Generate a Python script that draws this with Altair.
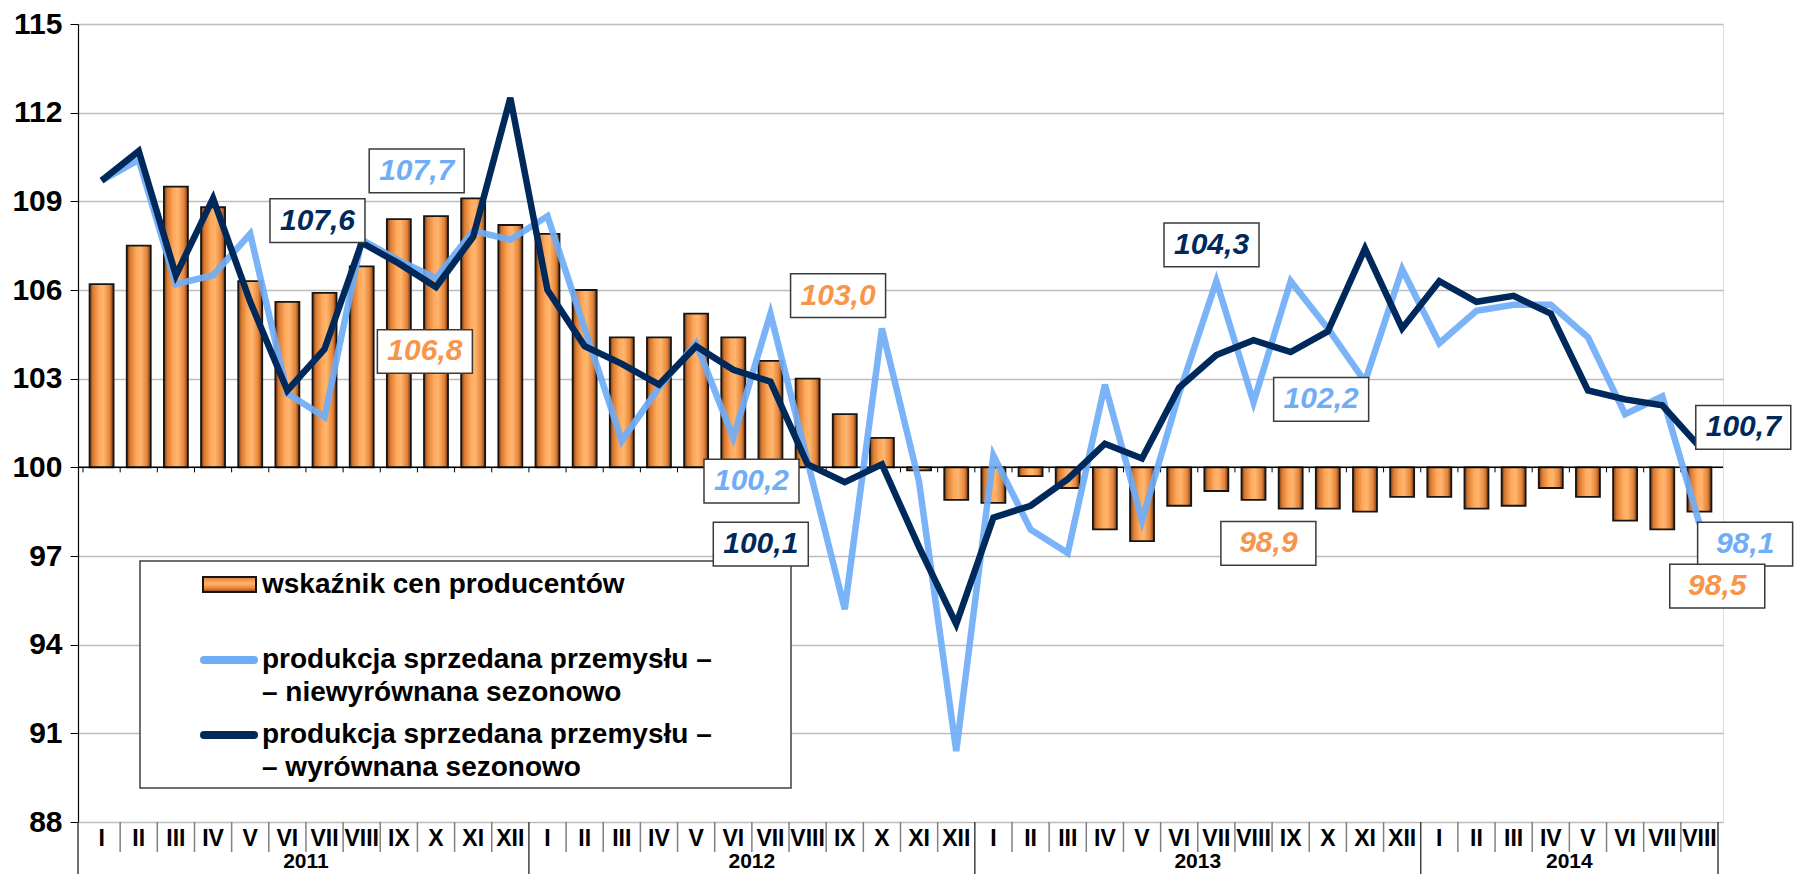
import altair as alt
import pandas as pd

# ---------------- data ----------------
roman = ["I", "II", "III", "IV", "V", "VI", "VII", "VIII", "IX", "X", "XI", "XII"]
years = ["2011"] * 12 + ["2012"] * 12 + ["2013"] * 12 + ["2014"] * 8
months = (roman * 4)[:44]

# wskaźnik cen producentów (bars, base 100)
ppi = [106.2, 107.5, 109.5, 108.8, 106.3, 105.6, 105.9, 106.8, 108.4, 108.5, 109.1, 108.2,
       107.9, 106.0, 104.4, 104.4, 105.2, 104.4, 103.6, 103.0, 101.8, 101.0, 99.9, 98.9,
       98.8, 99.7, 99.3, 97.9, 97.5, 98.7, 99.2, 98.9, 98.6, 98.6, 98.5, 99.0,
       99.0, 98.6, 98.7, 99.3, 99.0, 98.2, 97.9, 98.5]

# produkcja sprzedana przemysłu – niewyrównana sezonowo
light = [109.7, 110.4, 106.2, 106.5, 107.9, 102.5, 101.7, 107.7, 107.0, 106.4, 108.0, 107.7,
         108.5, 104.7, 100.9, 102.7, 104.2, 101.0, 105.2, 100.2, 95.2, 104.7, 99.5, 90.4,
         100.4, 97.9, 97.1, 102.8, 98.2, 102.5, 106.3, 102.2, 106.3, 104.7, 102.9, 106.7,
         104.2, 105.3, 105.5, 105.5, 104.4, 101.8, 102.4, 98.1]

# produkcja sprzedana przemysłu – wyrównana sezonowo
dark = [109.7, 110.7, 106.5, 109.1, 105.6, 102.6, 104.0, 107.6, 106.9, 106.1, 107.8, 112.5,
        106.0, 104.1, 103.5, 102.8, 104.1, 103.3, 102.9, 100.1, 99.5, 100.1, 97.3, 94.7,
        98.3, 98.7, 99.6, 100.8, 100.3, 102.7, 103.8, 104.3, 103.9, 104.6, 107.4, 104.7,
        106.3, 105.6, 105.8, 105.2, 102.6, 102.3, 102.1, 100.7]

y_ticks = [88, 91, 94, 97, 100, 103, 106, 109, 112, 115]

legend_labels = ["wskaźnik cen producentów",
                 "produkcja sprzedana przemysłu –", "– niewyrównana sezonowo",
                 "produkcja sprzedana przemysłu –", "– wyrównana sezonowo"]

# labelled months (every August) and which series
ann_idx = [7, 7, 7, 19, 19, 19, 31, 31, 31, 43, 43, 43]
ann_series = ["dark", "light", "ppi"] * 4
# label placement (x in month units, y in index units)
ann_x = [5.81, 8.48, 8.70, 17.74, 17.49, 19.82, 29.87, 32.82, 31.40, 44.18, 44.23, 43.48]
ann_y = [108.35, 110.03, 103.92, 97.40, 99.53, 105.81, 107.53, 102.30, 97.43, 101.35, 97.40, 95.98]

# ---------------- styles ----------------
FONT = "Liberation Sans"
C_LIGHT = "#6FADF7"
C_DARK = "#00295B"
C_ORANGE = "#F7964A"
W, H = 1645, 798

df = pd.DataFrame({"idx": list(range(44)), "month": months, "year": years,
                   "ppi": ppi, "light": light, "dark": dark})

series_vals = {"ppi": ppi, "light": light, "dark": dark}
series_col = {"ppi": C_ORANGE, "light": C_LIGHT, "dark": C_DARK}
ann_df = pd.DataFrame({
    "label": [f"{series_vals[s][i]:.1f}".replace(".", ",") for s, i in zip(ann_series, ann_idx)],
    "color": [series_col[s] for s in ann_series],
    "ax": ann_x,
    "ay": ann_y,
})

one = pd.DataFrame({"k": [0]})

xs = alt.Scale(domain=[-0.5, 43.5], nice=False, zero=False)
ys = alt.Scale(domain=[88, 115], nice=False, zero=False)

YAX = alt.Axis(values=y_ticks, title=None, format="d",
               labelFont=FONT, labelFontSize=30, labelFontWeight="bold",
               labelColor="black", labelPadding=8,
               tickSize=8, tickColor="black", tickWidth=1,
               domainColor="black", domainWidth=1.2,
               grid=True, gridColor="#BDBDBD", gridWidth=1.5)


def X(f):
    return alt.X(f, scale=xs, axis=None)


def Y(f):
    return alt.Y(f, scale=ys, axis=YAX)


bar_grad = alt.LinearGradient(
    gradient="linear", x1=0, x2=1, y1=0, y2=0,
    stops=[alt.GradientStop(color="#6E3710", offset=0),
           alt.GradientStop(color="#D97A30", offset=0.14),
           alt.GradientStop(color="#FFA95C", offset=0.4),
           alt.GradientStop(color="#FFB66E", offset=0.58),
           alt.GradientStop(color="#E5843A", offset=0.84),
           alt.GradientStop(color="#6E3710", offset=1)])

legend_grad = alt.LinearGradient(
    gradient="linear", x1=0, x2=0, y1=0, y2=1,
    stops=[alt.GradientStop(color="#E08035", offset=0),
           alt.GradientStop(color="#FFB46A", offset=0.45),
           alt.GradientStop(color="#E5843A", offset=0.75),
           alt.GradientStop(color="#8A4515", offset=1)])

base = alt.Chart(df)

bars = base.mark_bar(width=24, fill=bar_grad, stroke="#151515", strokeWidth=1.8).encode(
    x=X("idx:Q"),
    y=Y("ppi:Q"),
    y2=alt.datum(100),
)

axis100 = alt.Chart(one).mark_rule(color="black", strokeWidth=1.5).encode(
    y=alt.YDatum(100, scale=ys, axis=YAX), x=alt.value(0), x2=alt.value(W))

ticks100 = base.transform_calculate(edge="datum.idx - 0.5").mark_rule(
    color="black", strokeWidth=1).encode(
    x=X("edge:Q"), y=alt.YDatum(100, scale=ys, axis=YAX), y2=alt.datum(99.83))

line_light = base.mark_line(color=C_LIGHT, strokeWidth=6.5, opacity=0.92).encode(
    x=X("idx:Q"), y=Y("light:Q"))

line_dark = base.mark_line(color=C_DARK, strokeWidth=6.5).encode(
    x=X("idx:Q"), y=Y("dark:Q"))

# category axis (months / years)
month_text = base.mark_text(font=FONT, fontSize=23, fontWeight="bold", color="black",
                            baseline="middle").encode(
    x=X("idx:Q"), y=alt.value(815), text="month:N")

year_text = base.transform_aggregate(cx="mean(idx)", groupby=["year"]).mark_text(
    font=FONT, fontSize=21, fontWeight="bold", color="black", baseline="middle").encode(
    x=X("cx:Q"), y=alt.value(838), text="year:N")

short_sep = base.transform_filter("datum.month != 'XII' && datum.idx != 43").transform_calculate(
    edge="datum.idx + 0.5").mark_rule(color="#808080", strokeWidth=1.5).encode(
    x=X("edge:Q"), y=alt.value(H), y2=alt.value(828))

long_sep = base.transform_filter("datum.month == 'XII' || datum.idx == 43").transform_calculate(
    edge="datum.idx + 0.5").mark_rule(color="#404040", strokeWidth=1.5).encode(
    x=X("edge:Q"), y=alt.value(H), y2=alt.value(850))

left_ext = alt.Chart(one).mark_rule(color="#404040", strokeWidth=1.5).encode(
    x=alt.value(0), y=alt.value(H), y2=alt.value(850))

# data labels
ann_box = alt.Chart(ann_df).mark_point(
    shape="M-1,-0.46L1,-0.46L1,0.46L-1,0.46Z", size=9025, fill="white", fillOpacity=1,
    stroke="#3A3A3A", strokeWidth=1.5, opacity=1).encode(
    x=X("ax:Q"), y=Y("ay:Q"))

ann_text = alt.Chart(ann_df).mark_text(
    font=FONT, fontSize=30, fontWeight="bold", fontStyle="italic", baseline="middle").encode(
    x=X("ax:Q"), y=Y("ay:Q"), text="label:N", color=alt.Color("color:N", scale=None))

# legend (drawn manually)
leg_box = alt.Chart(one).mark_rect(fill="white", stroke="#404040", strokeWidth=1.5).encode(
    x=alt.value(62), x2=alt.value(713), y=alt.value(537), y2=alt.value(764))
leg_bar = alt.Chart(one).mark_rect(fill=legend_grad, stroke="#151515", strokeWidth=2).encode(
    x=alt.value(125), x2=alt.value(178), y=alt.value(553), y2=alt.value(568))
leg_l1 = alt.Chart(one).mark_rule(color=C_LIGHT, strokeWidth=8, strokeCap="round").encode(
    x=alt.value(126), x2=alt.value(176), y=alt.value(636))
leg_l2 = alt.Chart(one).mark_rule(color=C_DARK, strokeWidth=8, strokeCap="round").encode(
    x=alt.value(126), x2=alt.value(176), y=alt.value(711))

leg_text_layers = []
for txt, ypos in zip(legend_labels, [561, 636, 669, 711, 744]):
    leg_text_layers.append(
        alt.Chart(one).mark_text(font=FONT, fontSize=28, fontWeight="bold", color="black",
                                 align="left", baseline="middle", text=txt).encode(
            x=alt.value(184), y=alt.value(ypos)))

chart = alt.layer(
    bars, axis100, ticks100, line_light, line_dark,
    month_text, year_text, short_sep, long_sep, left_ext,
    leg_box, leg_bar, leg_l1, leg_l2, *leg_text_layers,
    ann_box, ann_text,
).properties(
    width=W, height=H,
    padding={"left": 70, "top": 16, "right": 74, "bottom": 52},
    autosize=alt.AutoSizeParams(type="none"),
).configure_view(strokeWidth=0, stroke="transparent").configure(font=FONT)

chart.save("out.html", embed_options={"renderer": "svg", "actions": False})
